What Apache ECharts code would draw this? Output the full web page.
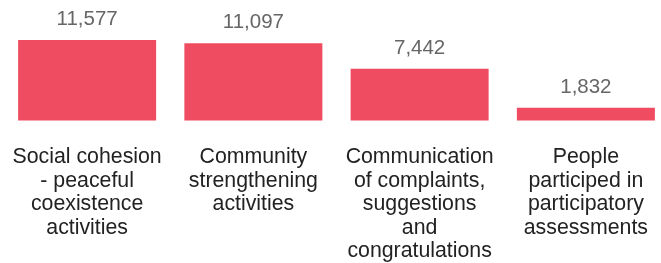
<!DOCTYPE html>
<html>
<head>
<meta charset="utf-8">
<script src="https://cdn.jsdelivr.net/npm/echarts@6/dist/echarts.min.js"></script>
<style>html,body{margin:0;padding:0;background:#fff;overflow:hidden;width:661px;height:263px}#c{width:669px;height:263px}</style>
</head>
<body>
<div id="c"></div>
<script>
var categories = [
  "Social cohesion\n- peaceful\ncoexistence\nactivities",
  "Community\nstrengthening\nactivities",
  "Communication\nof complaints,\nsuggestions\nand\ncongratulations",
  "People\nparticiped in\nparticipatory\nassessments"
];
var values = [11577, 11097, 7442, 1832];

var chart = echarts.init(document.getElementById('c'), null, {renderer: 'canvas'});
chart.setOption({
  animation: false,
  grid: {left: 4, right: 0, top: 37, bottom: 142.5, containLabel: false},
  xAxis: {
    type: 'category',
    data: categories,
    axisLine: {show: false},
    axisTick: {show: false},
    axisLabel: {
      interval: 0,
      margin: 25,
      color: '#222',
      fontSize: 21.3,
      lineHeight: 23.5,
      verticalAlign: 'top',
      fontFamily: 'Liberation Sans, Arial, sans-serif'
    }
  },
  yAxis: {
    type: 'value', min: 0, max: 12000, show: false,
    splitLine: {show: false}
  },
  series: [{
    type: 'bar',
    data: values,
    barWidth: 138,
    itemStyle: {color: '#EF4B61'},
    label: {
      show: true,
      position: 'top',
      distance: 10,
      color: '#666',
      fontSize: 20.5,
      fontFamily: 'Liberation Sans, Arial, sans-serif',
      formatter: function (p) { return p.value.toLocaleString('en-US'); }
    }
  }]
});
</script>
</body>
</html>
